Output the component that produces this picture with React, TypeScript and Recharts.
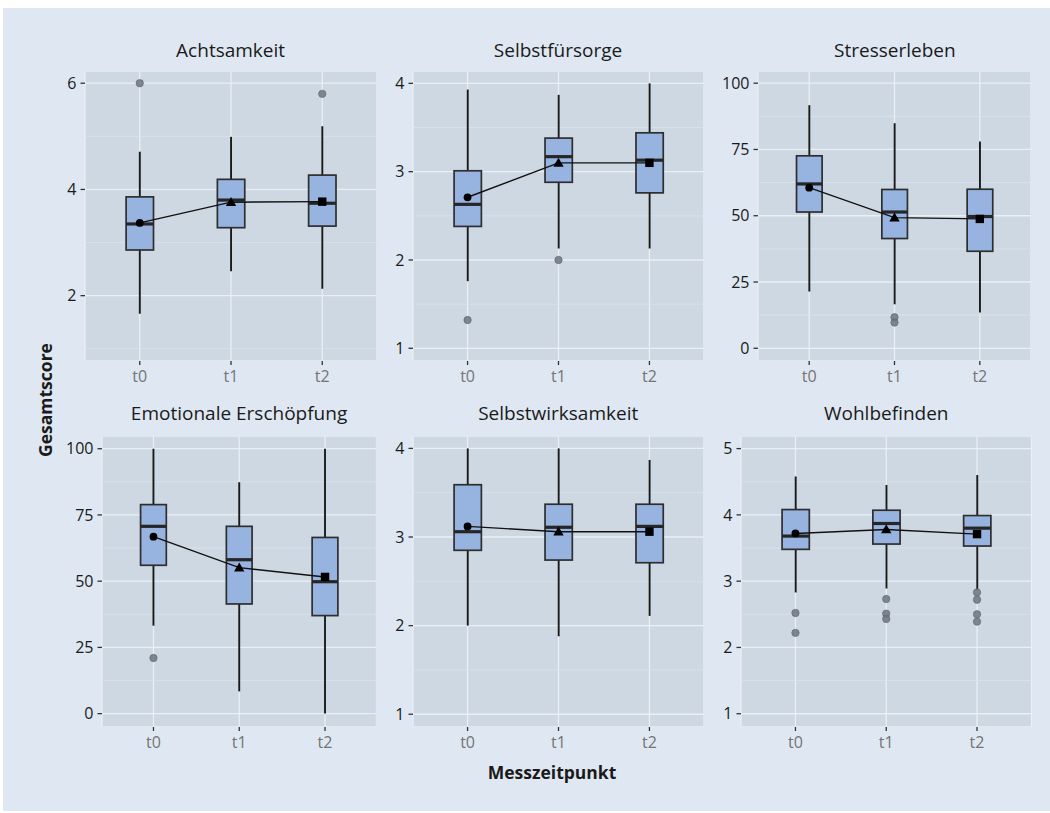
import React from 'react';
import { ComposedChart, Bar, Line, Scatter, XAxis, YAxis, CartesianGrid } from 'recharts';

const timepoints = ['t0', 't1', 't2'];
const scaleNames = ['Achtsamkeit', 'Selbstfürsorge', 'Stresserleben', 'Emotionale Erschöpfung', 'Selbstwirksamkeit', 'Wohlbefinden'];

const lowerWhisker = [
  [1.66, 2.46, 2.13],
  [1.76, 2.13, 2.13],
  [21.4, 16.6, 13.5],
  [33.2, 8.4, 0],
  [2.0, 1.88, 2.11],
  [2.83, 2.89, 2.87],
];
const lowerHinge = [
  [2.86, 3.28, 3.31],
  [2.38, 2.88, 2.76],
  [51.4, 41.4, 36.6],
  [56.0, 41.4, 37.0],
  [2.85, 2.74, 2.71],
  [3.48, 3.56, 3.53],
];
const medians = [
  [3.35, 3.8, 3.74],
  [2.63, 3.17, 3.13],
  [62.0, 51.4, 49.7],
  [70.7, 58.1, 49.8],
  [3.06, 3.11, 3.12],
  [3.68, 3.87, 3.8],
];
const upperHinge = [
  [3.86, 4.19, 4.27],
  [3.01, 3.38, 3.44],
  [72.6, 59.9, 60.0],
  [78.9, 70.7, 66.5],
  [3.59, 3.37, 3.37],
  [4.08, 4.07, 3.99],
];
const upperWhisker = [
  [4.71, 4.99, 5.19],
  [3.93, 3.87, 4.0],
  [91.7, 84.9, 78.0],
  [100, 87.3, 100],
  [4.0, 4.0, 3.87],
  [4.58, 4.45, 4.6],
];
const means = [
  [3.37, 3.76, 3.77],
  [2.71, 3.1, 3.1],
  [60.6, 49.3, 48.8],
  [66.8, 55.1, 51.6],
  [3.12, 3.06, 3.06],
  [3.72, 3.78, 3.71],
];
// outliers: [timepoint index, value]
const outliers = [
  [[0, 6.0], [2, 5.8]],
  [[0, 1.32], [1, 2.0]],
  [[1, 11.7], [1, 9.7]],
  [[0, 21.0]],
  [],
  [[0, 2.52], [0, 2.22], [1, 2.73], [1, 2.51], [1, 2.43], [2, 2.83], [2, 2.72], [2, 2.5], [2, 2.39]],
];
const yTicks = [
  [2, 4, 6],
  [1, 2, 3, 4],
  [0, 25, 50, 75, 100],
  [0, 25, 50, 75, 100],
  [1, 2, 3, 4],
  [1, 2, 3, 4, 5],
];
const yLimits = [
  [0.77, 6.23],
  [0.856, 4.14],
  [-4.8, 104.6],
  [-5.05, 104.8],
  [0.856, 4.14],
  [0.8, 5.19],
];

// plot-area rectangles in page pixels
const panels = [
  { left: 84.6, top: 71, width: 292, height: 290 },
  { left: 412.5, top: 71, width: 291, height: 290 },
  { left: 758.3, top: 71, width: 273, height: 290 },
  { left: 101.8, top: 435.7, width: 274.5, height: 291 },
  { left: 412.7, top: 435.7, width: 291, height: 291 },
  { left: 741, top: 435.7, width: 290.5, height: 291 },
];
const titleBaselines = [56.5, 56.5, 56.5, 420, 420, 420];

const AXIS_W = 60;
const X_AXIS_H = 40;
const PAGE_BG = '#dfe8f2';
const PANEL_BG = '#cdd8e3';
const BOX_FILL = '#97b4e0';

function minorTicks(ticks: number[], domain: number[]) {
  const step = ticks[1] - ticks[0];
  const out: number[] = [];
  for (let v = ticks[0] - step / 2; v <= ticks[ticks.length - 1] + step / 2; v += step) {
    if (v > domain[0] && v < domain[1]) out.push(v);
  }
  return out;
}

const BoxShape = (props: any) => {
  const { x, y, width, height, payload } = props;
  const unit = height / (payload.q3 - payload.q1);
  const py = (v: number) => y + (payload.q3 - v) * unit;
  const cx = x + width / 2;
  return (
    <g>
      <line x1={cx} x2={cx} y1={py(payload.hi)} y2={y} stroke="#1a1a1a" strokeWidth={1.9} />
      <line x1={cx} x2={cx} y1={y + height} y2={py(payload.lo)} stroke="#1a1a1a" strokeWidth={1.9} />
      <rect x={x} y={y} width={width} height={height} fill={BOX_FILL} stroke="#2e2e2e" strokeWidth={1.7} />
      <line x1={x} x2={x + width} y1={py(payload.med)} y2={py(payload.med)} stroke="#262626" strokeWidth={3.2} />
    </g>
  );
};

const MeanDot = (props: any) => {
  const { cx, cy, index } = props;
  if (cx == null || cy == null) return <g key={index} />;
  if (index === 0) return <circle key={index} cx={cx} cy={cy} r={3.9} fill="#000" />;
  if (index === 1)
    return <path key={index} d={`M${cx},${cy - 5.2} L${cx + 5.2},${cy + 3.8} L${cx - 5.2},${cy + 3.8} Z`} fill="#000" />;
  return <rect key={index} x={cx - 4.2} y={cy - 4.2} width={8.4} height={8.4} fill="#000" />;
};

const OutlierDot = (props: any) => (
  <circle cx={props.cx} cy={props.cy} r={3.7} fill="#6c747e" fillOpacity={0.85} stroke="#5d646c" strokeWidth={0.6} />
);

function Panel({ i }: { i: number }) {
  const p = panels[i];
  const rows = timepoints.map((t, k) => ({
    x: k,
    lo: lowerWhisker[i][k],
    q1: lowerHinge[i][k],
    med: medians[i][k],
    q3: upperHinge[i][k],
    hi: upperWhisker[i][k],
    mean: means[i][k],
  }));
  const outRows = outliers[i].map(([k, v]) => ({ x: k, v }));
  const barSize = (p.width / 3.2) * 0.3;
  return (
    <>
      <div style={{ position: 'absolute', left: p.left, top: p.top, width: p.width, height: p.height, background: PANEL_BG }} />
      <div style={{ position: 'absolute', left: p.left - AXIS_W, top: p.top }}>
        <ComposedChart width={AXIS_W + p.width} height={p.height + X_AXIS_H} data={rows} margin={{ top: 0, right: 0, bottom: 0, left: 0 }}>
          <CartesianGrid stroke="#e9eff5" strokeWidth={1.3} />
          <CartesianGrid yAxisId="minor" vertical={false} stroke="#dbe3ec" strokeWidth={0.8} />
          <XAxis
            type="number"
            dataKey="x"
            domain={[-0.6, 2.6]}
            ticks={[0, 1, 2]}
            allowDataOverflow
            height={X_AXIS_H}
            tickFormatter={(v) => timepoints[v]}
            axisLine={false}
            tickLine={{ stroke: '#333', strokeWidth: 1.3 }}
            tickSize={4}
            tickMargin={6}
            tick={{ fill: '#747474', fontSize: 16 }}
          />
          <YAxis
            type="number"
            domain={yLimits[i]}
            ticks={yTicks[i]}
            allowDataOverflow
            width={AXIS_W}
            axisLine={false}
            tickLine={{ stroke: '#333', strokeWidth: 1.3 }}
            tickSize={4.5}
            tickMargin={4}
            tick={{ fill: '#1a1a1a', fontSize: 16 }}
          />
          <YAxis yAxisId="minor" hide type="number" domain={yLimits[i]} ticks={minorTicks(yTicks[i], yLimits[i])} allowDataOverflow />
          <Bar dataKey={(d: any) => [d.q1, d.q3]} barSize={barSize} shape={BoxShape} isAnimationActive={false} />
          {outRows.length > 0 && <Scatter data={outRows} dataKey="v" shape={OutlierDot} isAnimationActive={false} />}
          <Line dataKey="mean" type="linear" stroke="#111" strokeWidth={1.4} dot={MeanDot} activeDot={false} isAnimationActive={false} />
        </ComposedChart>
      </div>
    </>
  );
}

export default function App() {
  return (
    <div style={{ position: 'absolute', left: 0, top: 0, width: 1050, height: 813, background: '#fff', fontFamily: "'Open Sans', sans-serif", overflow: 'hidden' }}>
      <div style={{ position: 'absolute', left: 3, top: 8, width: 1047, height: 803, background: PAGE_BG }} />
      {scaleNames.map((_, i) => (
        <Panel key={i} i={i} />
      ))}
      <svg width={1050} height={813} style={{ position: 'absolute', left: 0, top: 0, pointerEvents: 'none' }}>
        {scaleNames.map((name, i) => (
          <text key={name} x={panels[i].left + panels[i].width / 2} y={titleBaselines[i]} textAnchor="middle" fontSize={19} fill="#1a1a1a">
            {name}
          </text>
        ))}
        <text x={52} y={400} transform="rotate(-90 52 400)" textAnchor="middle" fontSize={17.5} fontWeight="bold" fill="#1a1a1a">
          Gesamtscore
        </text>
        <text x={552} y={779} textAnchor="middle" fontSize={17.5} fontWeight="bold" fill="#1a1a1a">
          Messzeitpunkt
        </text>
      </svg>
    </div>
  );
}
